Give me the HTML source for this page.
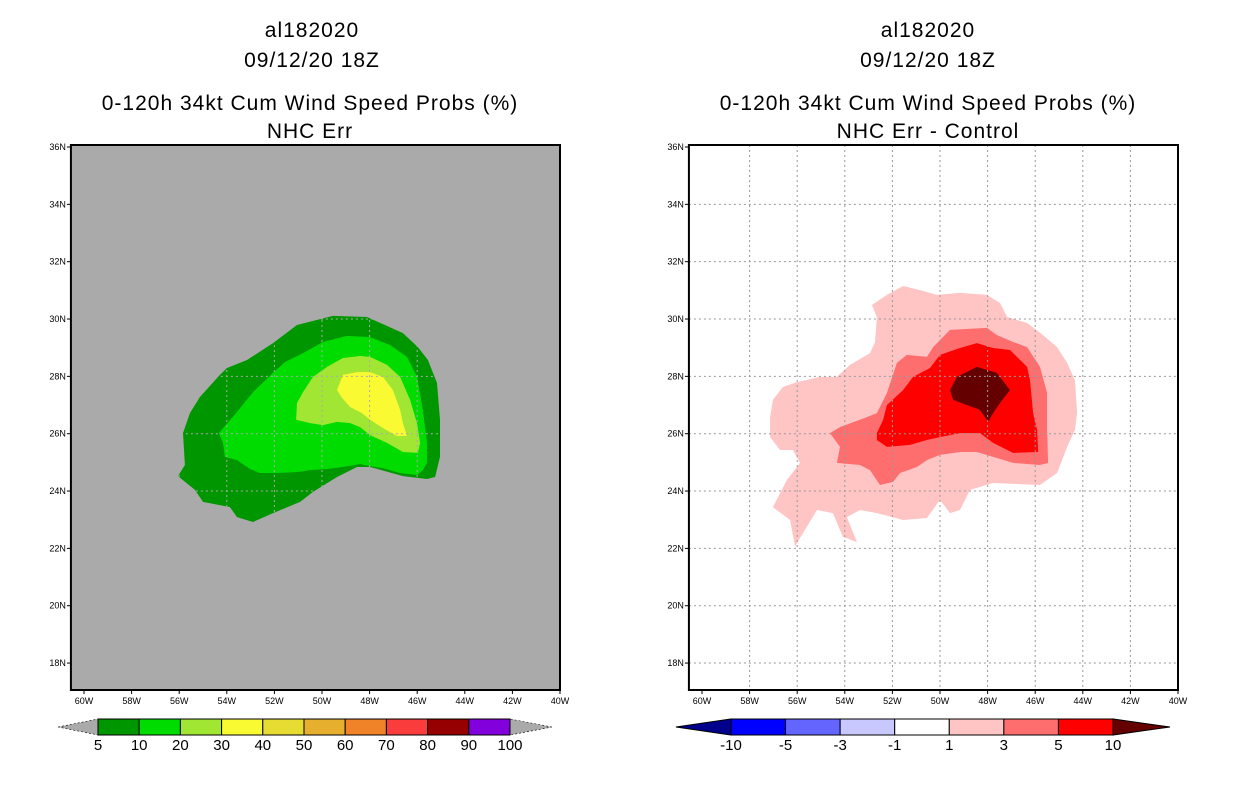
<!DOCTYPE html>
<html><head><meta charset="utf-8">
<style>
body{margin:0;background:#fff;width:1236px;height:800px;overflow:hidden;font-family:"Liberation Sans",sans-serif}
svg{display:block}
.t{font-size:21px;text-anchor:middle;fill:#000;letter-spacing:1px}
.ax{font-size:9px;fill:#000}
.lg{font-size:15px;text-anchor:middle;fill:#000}
</style></head><body>
<svg id="chart" width="1236" height="800" viewBox="0 0 1236 800" xmlns="http://www.w3.org/2000/svg">
<g>
<text class="t" x="312" y="37">al182020</text>
<text class="t" x="312" y="67">09/12/20 18Z</text>
<text class="t" x="310" y="110">0-120h 34kt Cum Wind Speed Probs (%)</text>
<text class="t" x="310" y="138">NHC Err</text>
</g>
<g>
<text class="t" x="928" y="37">al182020</text>
<text class="t" x="928" y="67">09/12/20 18Z</text>
<text class="t" x="928" y="110">0-120h 34kt Cum Wind Speed Probs (%)</text>
<text class="t" x="928" y="138">NHC Err - Control</text>
</g>
<g id="left"></g>
<g id="right"></g>
<g id="leg"></g>
</svg>
<script>
const NS="http://www.w3.org/2000/svg";
const lonTicks=[-60,-58,-56,-54,-52,-50,-48,-46,-44,-42,-40];
const lonLabels=["60W","58W","56W","54W","52W","50W","48W","46W","44W","42W","40W"];
const latTicks=[18,20,22,24,26,28,30,32,34,36];
const latLabels=["18N","20N","22N","24N","26N","28N","30N","32N","34N","36N"];
const leftLevels=["5-10","10-20","20-30","30-40"];
const leftColors=["#009600","#00dc00","#a0e632","#fafa32"];
const leftPolys=[
[[-56.05,24.52],[-55.76,24.91],[-55.84,26.02],[-55.55,26.72],[-55.13,27.28],[-54.29,28.05],[-53.99,28.29],[-53.15,28.57],[-52.06,29.16],[-51.05,29.79],[-49.54,30.11],[-48.11,30.07],[-46.6,29.51],[-45.97,29.02],[-45.55,28.57],[-45.17,27.77],[-45.04,26.48],[-45.04,25.19],[-45.25,24.49],[-45.59,24.42],[-46.6,24.52],[-47.98,24.84],[-48.53,24.84],[-49.37,24.49],[-50.38,23.97],[-50.92,23.62],[-52.06,23.23],[-52.9,22.92],[-53.57,23.09],[-53.87,23.44],[-55.0,23.62],[-55.34,24.04]],
[[-54.33,26.02],[-53.57,26.76],[-52.9,27.45],[-52.06,28.12],[-51.55,28.5],[-50.8,28.81],[-49.96,29.2],[-48.95,29.41],[-47.98,29.37],[-47.14,29.09],[-46.43,28.68],[-46.01,27.98],[-45.76,26.83],[-45.59,25.68],[-45.59,24.98],[-45.76,24.73],[-46.01,24.56],[-46.72,24.63],[-47.44,24.8],[-47.98,24.87],[-48.4,24.94],[-49.12,24.84],[-49.79,24.77],[-50.5,24.73],[-51.05,24.66],[-51.89,24.63],[-52.61,24.63],[-53.03,24.77],[-53.57,25.08],[-54.08,25.19],[-54.16,25.68]],
[[-51.09,26.48],[-51.05,27.07],[-50.8,27.45],[-50.38,27.98],[-49.79,28.33],[-49.12,28.64],[-48.4,28.71],[-47.98,28.68],[-47.27,28.4],[-46.72,27.98],[-46.3,27.18],[-46.01,26.37],[-45.88,25.68],[-45.97,25.33],[-46.6,25.36],[-47.27,25.68],[-47.98,25.95],[-48.4,26.23],[-48.82,26.37],[-49.37,26.41],[-49.96,26.3],[-50.5,26.37]],
[[-49.37,27.52],[-49.12,28.05],[-48.53,28.15],[-47.98,28.15],[-47.44,27.98],[-47.02,27.52],[-46.72,26.83],[-46.6,26.37],[-46.43,25.92],[-46.85,25.92],[-47.44,26.2],[-47.98,26.48],[-48.32,26.72],[-48.82,26.93],[-49.16,27.25]]
];
const rightLevels=["1-3","3-5","5-10",">10"];
const rightColors=["#ffc4c4","#ff6e6e","#ff0000","#640000"];
const rightPolys=[
[[-57.14,26.58],[-57.02,27.18],[-56.6,27.63],[-56.01,27.8],[-55.04,27.98],[-54.33,27.98],[-53.78,28.4],[-52.94,28.81],[-52.73,29.2],[-52.65,30.07],[-52.86,30.49],[-52.23,30.84],[-51.55,31.15],[-50.84,31.01],[-50.13,30.84],[-49.16,30.91],[-48.03,30.84],[-47.48,30.56],[-47.18,30.07],[-46.34,29.86],[-45.67,29.44],[-45.08,29.02],[-44.66,28.47],[-44.33,27.87],[-44.24,26.72],[-44.33,26.13],[-44.66,25.54],[-45.08,24.63],[-45.8,24.21],[-47.77,24.28],[-48.74,24.04],[-49.16,23.34],[-49.58,23.23],[-50,23.69],[-50.55,23.06],[-51.55,22.99],[-52.65,23.23],[-53.36,23.34],[-53.91,23.09],[-53.49,22.22],[-54.08,22.4],[-54.5,23.23],[-55.17,23.34],[-56.01,22.19],[-56.09,22.05],[-56.3,22.99],[-57.02,23.44],[-56.43,24.39],[-55.88,24.98],[-56.18,25.43],[-56.72,25.43],[-57.14,25.88]],
[[-54.62,26.02],[-54.2,26.23],[-53.07,26.58],[-52.65,26.72],[-52.23,27.42],[-51.81,28.47],[-51.39,28.75],[-50.55,28.68],[-50.29,29.02],[-49.58,29.62],[-48.03,29.69],[-47.61,29.44],[-46.93,29.2],[-46.34,29.02],[-45.8,28.33],[-45.5,27.42],[-45.5,26.13],[-45.46,24.98],[-45.8,24.91],[-46.93,24.98],[-47.77,25.19],[-48.45,25.36],[-49.16,25.36],[-50,25.26],[-50.55,25.08],[-50.97,24.84],[-51.68,24.63],[-51.97,24.32],[-52.52,24.21],[-52.94,24.73],[-53.36,24.91],[-54.33,24.98],[-54.2,25.54]],
[[-52.65,26.02],[-52.39,26.48],[-52.23,27.0],[-51.55,27.52],[-51.13,27.98],[-50.42,28.29],[-50,28.75],[-49.16,28.99],[-48.45,29.16],[-47.77,28.99],[-47.06,28.92],[-46.34,28.33],[-46.22,27.87],[-46.09,26.72],[-45.92,26.13],[-45.88,25.36],[-46.93,25.33],[-47.77,25.68],[-48.32,26.02],[-49.16,26.02],[-50,25.88],[-50.55,25.78],[-51.26,25.61],[-52.23,25.54],[-52.65,25.78]],
[[-49.58,27.52],[-49.29,27.98],[-48.45,28.33],[-47.61,28.12],[-47.06,27.52],[-47.48,27.07],[-47.77,26.72],[-47.98,26.41],[-48.32,26.83],[-48.87,27.0],[-49.45,27.18]]
];
const leftLegendLabels=["5","10","20","30","40","50","60","70","80","90","100"];
const leftLegendColors=["#009600","#00dc00","#a0e632","#fafa32","#e6dc32","#e6af2d","#f08228","#fa3c3c","#960000","#8200dc"];
const rightLegendLabels=["-10","-5","-3","-1","1","3","5","10"];
const rightLegendColors=["#0000ff","#6464ff","#c8c8ff","#ffffff","#ffc4c4","#ff6e6e","#ff0000"];

function el(tag,attrs,parent){const e=document.createElementNS(NS,tag);for(const k in attrs)e.setAttribute(k,attrs[k]);parent.appendChild(e);return e;}
function panel(gid,x0,bg,polys,colors,levels,gridCol){
  const g=document.getElementById(gid);
  const X=lon=>x0+13+(lon+60)*23.8, Y=lat=>147+(36-lat)*28.67;
  const L=X(-60.55),R=X(-40),T=145,B=690;
  const r=el('rect',{x:L,y:T,width:R-L,height:B-T,fill:bg},g);
  
  
  polys.forEach((p,i)=>{
    const pg=el('polygon',{points:p.map(q=>X(q[0]).toFixed(1)+','+Y(q[1]).toFixed(1)).join(' '),fill:colors[i]},g);
    
    
  });
  lonTicks.forEach((v,i)=>{
    if(i>0&&i<lonTicks.length-1){const l=el('line',{x1:X(v),x2:X(v),y1:T,y2:B,stroke:gridCol,'stroke-width':1,'stroke-dasharray':'2,3'},g);
    
    }
    el('line',{x1:X(v),x2:X(v),y1:B,y2:B+4,stroke:'#000'},g);
    const t=el('text',{x:X(v),y:B+14,'text-anchor':'middle',class:'ax'},g);t.textContent=lonLabels[i];
    
    
  });
  latTicks.forEach((v,i)=>{
    if(v<36){const l=el('line',{x1:L,x2:R,y1:Y(v),y2:Y(v),stroke:gridCol,'stroke-width':1,'stroke-dasharray':'2,3'},g);
    
    }
    el('line',{x1:L-4,x2:L,y1:Y(v),y2:Y(v),stroke:'#000'},g);
    const t=el('text',{x:L-5,y:Y(v)+3,'text-anchor':'end',class:'ax'},g);t.textContent=latLabels[i];
    
    
  });
  const f=el('rect',{x:L,y:T,width:R-L,height:B-T,fill:'none',stroke:'#000','stroke-width':2},g);
  
  
}
panel('left',71,'#aaaaaa',leftPolys,leftColors,leftLevels,'#aaaaaa');
panel('right',689,'#ffffff',rightPolys,rightColors,rightLevels,'#999999');

function legend(x0,x1,tl,tr,labels,colors,leftTri,rightTri,dash){
  const g=document.getElementById('leg');
  const y=719,h=16,n=labels.length-1,w=(x1-x0)/n;
  const a=el('polygon',{points:`${tl},${y+h/2} ${x0},${y} ${x0},${y+h}`,fill:leftTri,stroke:'#000','stroke-width':dash?0.6:1,'stroke-dasharray':dash?'2,2':'none'},g);
  
  
  const b=el('polygon',{points:`${tr},${y+h/2} ${x1},${y} ${x1},${y+h}`,fill:rightTri,stroke:'#000','stroke-width':dash?0.6:1,'stroke-dasharray':dash?'2,2':'none'},g);
  
  
  colors.forEach((c,i)=>{
    const r=el('rect',{x:x0+i*w,y:y,width:w,height:h,fill:c,stroke:'#000','stroke-width':1},g);
    
    
  });
  labels.forEach((s,i)=>{
    const t=el('text',{x:x0+i*w,y:y+h+15,class:'lg'},g);t.textContent=s;
    
    
  });
}
legend(98,510,58,552,leftLegendLabels,leftLegendColors,'#aaaaaa','#aaaaaa',true);
legend(731,1113,676,1170,rightLegendLabels,rightLegendColors,'#00008c','#640000',false);
</script>
</body></html>
